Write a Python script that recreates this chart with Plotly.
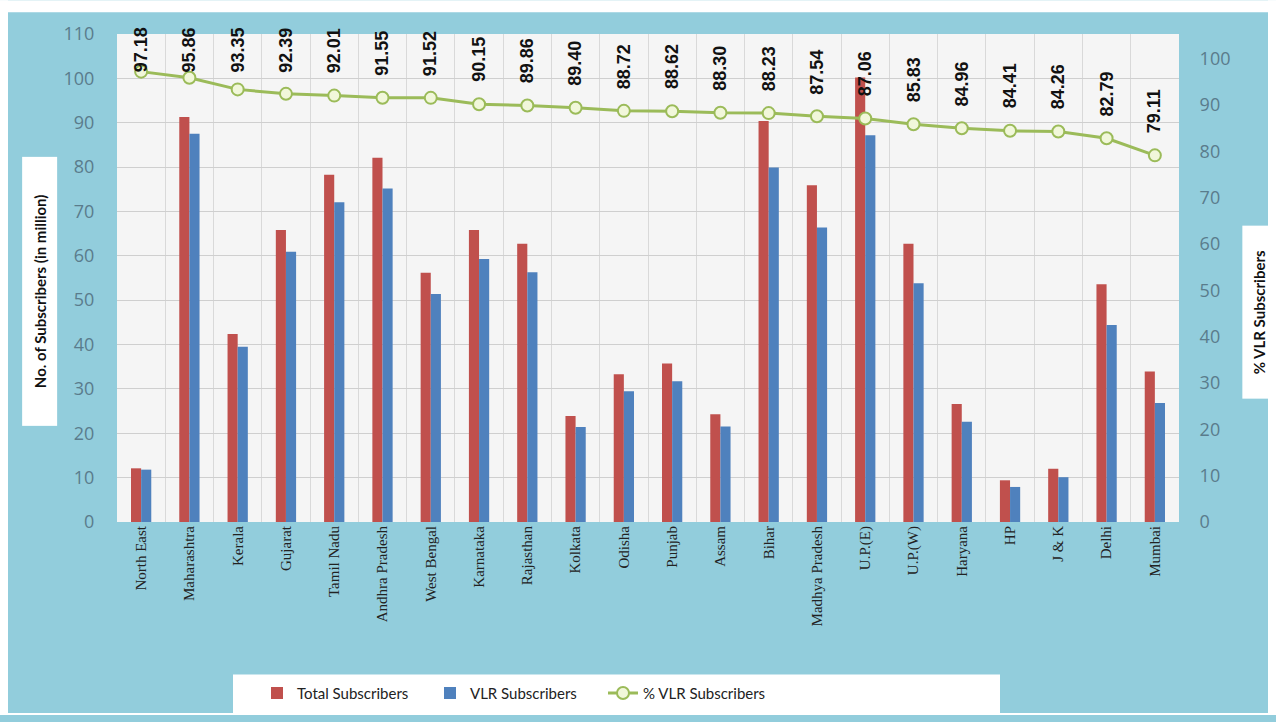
import plotly.graph_objects as go

categories = ["North East", "Maharashtra", "Kerala", "Gujarat", "Tamil Nadu", "Andhra Pradesh",
              "West Bengal", "Karnataka", "Rajasthan", "Kolkata", "Odisha", "Punjab", "Assam",
              "Bihar", "Madhya Pradesh", "U.P.(E)", "U.P.(W)", "Haryana", "HP", "J & K",
              "Delhi", "Mumbai"]
total_subs = [12.1, 91.3, 42.4, 65.8, 78.3, 82.1, 56.2, 65.8, 62.7, 23.9, 33.3, 35.7, 24.3,
              90.4, 75.9, 100.2, 62.7, 26.6, 9.4, 12.0, 53.6, 33.9]
vlr_subs = [11.8, 87.5, 39.5, 60.9, 72.1, 75.2, 51.4, 59.3, 56.3, 21.4, 29.5, 31.7, 21.5,
            79.9, 66.4, 87.2, 53.8, 22.6, 7.9, 10.1, 44.4, 26.8]
pct_vlr = [97.18, 95.86, 93.35, 92.39, 92.01, 91.55, 91.52, 90.15, 89.86, 89.40, 88.72, 88.62,
           88.30, 88.23, 87.54, 87.06, 85.83, 84.96, 84.41, 84.26, 82.79, 79.11]
left_ticks = list(range(0, 111, 10))
right_ticks = list(range(0, 101, 10))

W, H = 1276, 722
L, R, T, B = 117, 1179, 34, 527
BG = "#92CDDC"

def px(xp):
    return (xp - L) / (R - L)

def py(yp):
    return (B - yp) / (B - T)

fig = go.Figure()
fig.add_trace(go.Bar(x=categories, y=total_subs, name="Total Subscribers",
                     marker=dict(color="#C0504D", line=dict(width=0))))
fig.add_trace(go.Bar(x=categories, y=vlr_subs, name="VLR Subscribers",
                     marker=dict(color="#4F81BD", line=dict(width=0))))
fig.add_trace(go.Scatter(x=categories, y=pct_vlr, name="% VLR Subscribers", yaxis="y2",
                         mode="lines+markers",
                         line=dict(color="#9BBB59", width=3),
                         marker=dict(symbol="circle", size=12, color="#F1F7DA",
                                     line=dict(color="#9BBB59", width=2))))

y2max = 105.3
ann = []
plot_h = B - T
for c, v in zip(categories, pct_vlr):
    marker_px = B - v / y2max * plot_h
    bottom = max(marker_px - 20, T + 41)
    ann.append(dict(x=c, y=v, xref="x", yref="y2", text=f"<b>{v:.2f}</b>", textangle=-90,
                    showarrow=False, xanchor="center", yanchor="bottom",
                    yshift=marker_px - bottom,
                    font=dict(family="Liberation Sans", size=18, color="#111111")))

# axis titles in white boxes
ann.append(dict(x=px(40), y=py(294), xref="paper", yref="paper",
                text="<b>No. of Subscribers (in million)</b>", textangle=-90, showarrow=False,
                bgcolor="white", width=266, height=32, xanchor="center", yanchor="middle",
                font=dict(family="Lato", size=15, color="#111111")))
ann.append(dict(x=px(1259), y=py(315), xref="paper", yref="paper",
                text="<b>% VLR Subscribers</b>", textangle=-90, showarrow=False,
                bgcolor="white", width=170, height=30, xanchor="center", yanchor="middle",
                font=dict(family="Lato", size=15, color="#111111")))

shapes = [
    # white page margins around the blue chart area
    dict(type="rect", xref="paper", yref="paper", x0=px(0), x1=px(W), y0=py(0), y1=py(12),
         fillcolor="white", line=dict(width=0), layer="below"),
    dict(type="rect", xref="paper", yref="paper", x0=px(0), x1=px(8), y0=py(H), y1=py(0),
         fillcolor="white", line=dict(width=0), layer="below"),
    dict(type="rect", xref="paper", yref="paper", x0=px(1268), x1=px(W), y0=py(H), y1=py(0),
         fillcolor="white", line=dict(width=0), layer="below"),
    dict(type="rect", xref="paper", yref="paper", x0=px(0), x1=px(W), y0=py(H), y1=py(720),
         fillcolor="white", line=dict(width=0), layer="below"),
    # legend box
    dict(type="rect", xref="paper", yref="paper", x0=px(233), x1=px(1000), y0=py(720), y1=py(681),
         fillcolor="white", line=dict(width=0), layer="below"),
]

fig.update_layout(
    width=W, height=H,
    margin=dict(l=L, r=W - R, t=T, b=H - B, pad=0),
    paper_bgcolor=BG,
    plot_bgcolor="#F5F5F5",
    barmode="group", bargap=0.58, bargroupgap=0,
    showlegend=True,
    legend=dict(orientation="h", x=px(257), y=py(700), xanchor="left", yanchor="middle",
                bgcolor="rgba(0,0,0,0)", font=dict(family="Lato", size=15, color="#222222"),
                itemwidth=30, entrywidth=128, entrywidthmode="pixels", traceorder="normal"),
    xaxis=dict(type="category", tickson="boundaries", showgrid=True, gridcolor="#D9D9D9",
               gridwidth=1, tickangle=-90, ticks="", showline=False, zeroline=False,
               tickfont=dict(family="Liberation Serif", size=15, color="#222222"),
               range=[-0.5, len(categories) - 0.5]),
    yaxis=dict(range=[0, 110], tickvals=left_ticks, showgrid=True, gridcolor="#CFCFCF",
               gridwidth=1, zeroline=False, showline=False, ticks="outside", ticklen=18,
               tickcolor="rgba(0,0,0,0)",
               tickfont=dict(family="Open Sans", size=18, color="#5A7C8C")),
    yaxis2=dict(range=[0, y2max], tickvals=right_ticks, overlaying="y", side="right",
                showgrid=False, zeroline=False, showline=False, ticks="outside", ticklen=16,
                tickcolor="rgba(0,0,0,0)",
                tickfont=dict(family="Open Sans", size=18, color="#5A7C8C")),
    annotations=ann,
    shapes=shapes,
)

fig.write_html("out.html", config={"displayModeBar": False},
               post_script="document.body.style.margin='0';document.body.style.overflow='hidden';")
